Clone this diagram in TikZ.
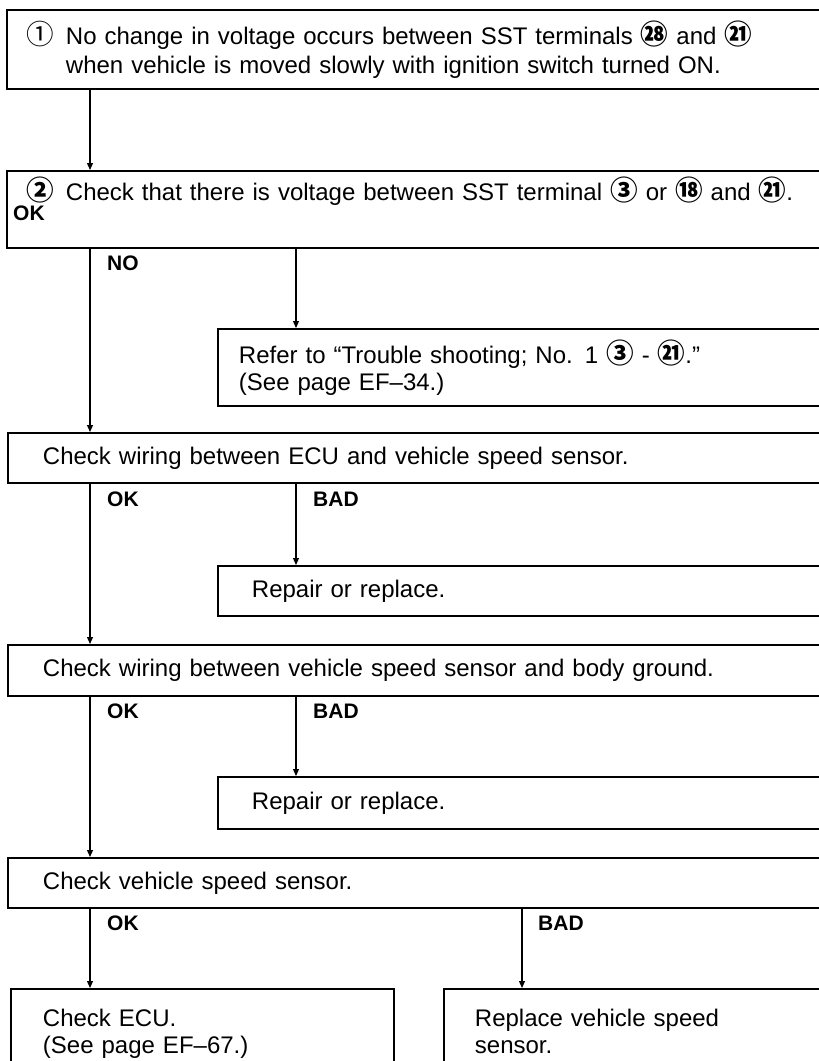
\documentclass[tikz,border=0pt]{standalone}
\usepackage{fontspec}
\setmainfont{Liberation Sans}
\newfontfamily\cjk[Scale=1.15]{Noto Sans CJK SC}
\usetikzlibrary{arrows.meta}
\newcommand\cbold[1]{{\cjk\bfseries #1}}
\newcommand\cthin[1]{{\cjk #1}}
\begin{document}
\begin{tikzpicture}[x=1pt,y=-1pt,
  box/.style={draw, line width=1.9pt, rectangle, anchor=north west, align=left,
    inner ysep=0pt, font=\fontsize{24}{27}\selectfont},
  conn/.style={line width=1.2pt, -{Triangle[length=7pt,width=6pt]}},
  lbl/.style={font=\fontsize{21}{24}\selectfont\bfseries, anchor=west, inner sep=0pt}]
\useasboundingbox (0,0) rectangle (819,1061);
\clip (0,0) rectangle (819,1061);

\coordinate (xL) at (90,0);
\coordinate (xM) at (296,0);
\coordinate (xR) at (522,0);

\node[box, inner xsep=20pt, text width=794pt, minimum height=79pt,
      font=\fontsize{24}{29}\selectfont] (b1) at (6,9)
  {\makebox[39pt][l]{\cthin{①}}No change in voltage occurs between SST terminals \cbold{㉘} and \cbold{㉑}\\
   \hspace*{39pt}when vehicle is moved slowly with ignition switch turned ON.};

\node[box, inner xsep=20pt, text width=794pt, text height=30pt, text depth=47pt] (b2) at (6,170)
  {\makebox[39pt][l]{\cbold{②}}Check that there is voltage between SST terminal \cbold{③} or \cbold{⑱} and \cbold{㉑}.};
\node[lbl] (ok0) at (13,213) {OK};

\node[box, inner xsep=21pt, text width=581pt, minimum height=77pt] (ref) at (217,328)
  {Refer to “Trouble shooting; No. 1 \cbold{③} - \cbold{㉑}.”\\(See page EF–34.)};

\node[box, inner xsep=35pt, text width=763pt, minimum height=50pt] (b3) at (7,432)
  {Check wiring between ECU and vehicle speed sensor.};

\node[box, inner xsep=34pt, text width=555pt, minimum height=50pt] (rp1) at (217,565)
  {Repair or replace.};

\node[box, inner xsep=35pt, text width=763pt, minimum height=51pt] (b4) at (7,644)
  {Check wiring between vehicle speed sensor and body ground.};

\node[box, inner xsep=34pt, text width=555pt, minimum height=52pt] (rp2) at (217,776)
  {Repair or replace.};

\node[box, inner xsep=35pt, text width=763pt, minimum height=50pt] (b5) at (7,857)
  {Check vehicle speed sensor.};

\node[box, inner xsep=32pt, inner ysep=20pt, text width=319pt] (ecu) at (10,988)
  {Check ECU.\\(See page EF–67.)};

\node[box, inner xsep=31pt, inner ysep=20pt, text width=335pt] (rvs) at (443,988)
  {Replace vehicle speed\\sensor.};

% connectors
\draw[conn] (b1.south -| xL) -- (b2.north -| xL);
\draw[conn] (b2.south -| xL) -- (b3.north -| xL);
\draw[conn] (b2.south -| xM) -- (ref.north -| xM);
\draw[conn] (b3.south -| xL) -- (b4.north -| xL);
\draw[conn] (b3.south -| xM) -- (rp1.north -| xM);
\draw[conn] (b4.south -| xL) -- (b5.north -| xL);
\draw[conn] (b4.south -| xM) -- (rp2.north -| xM);
\draw[conn] (b5.south -| xL) -- (ecu.north -| xL);
\draw[conn] (b5.south -| xR) -- (rvs.north -| xR);

% labels
\node[lbl] (no2) at (107,263) {NO};
\node[lbl] (ok3) at (107,499) {OK};
\node[lbl] (bad3) at (313,499) {BAD};
\node[lbl] (ok4) at (107,711) {OK};
\node[lbl] (bad4) at (313,711) {BAD};
\node[lbl] (ok5) at (107,923) {OK};
\node[lbl] (bad5) at (538,923) {BAD};
\end{tikzpicture}
\end{document}
